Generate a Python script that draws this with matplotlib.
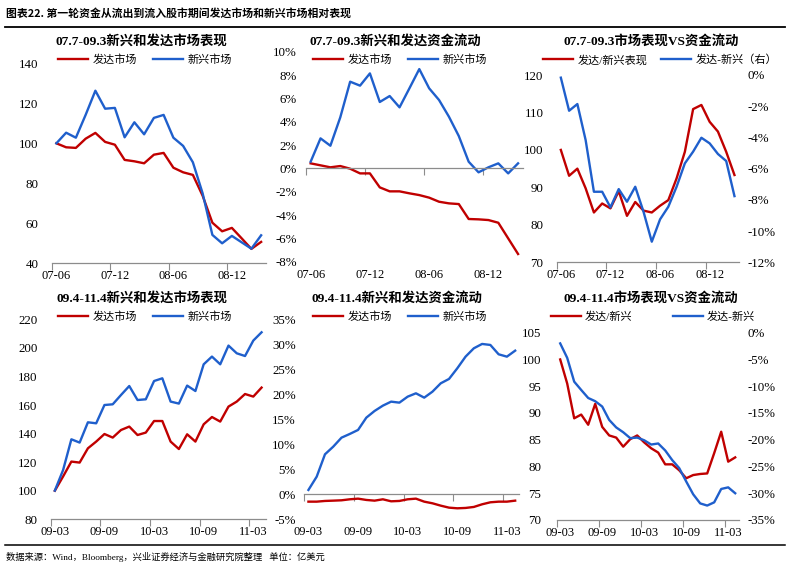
import matplotlib
matplotlib.use("Agg")
import matplotlib.pyplot as plt
from matplotlib.ticker import FixedLocator, FuncFormatter
from matplotlib.lines import Line2D

plt.rcParams['font.family'] = ['Liberation Serif', 'Noto Sans CJK SC']
plt.rcParams['axes.unicode_minus'] = False

RED = '#C00000'
BLUE = '#1F5FCC'

# ---------------- data ----------------
labels_top = ['07-06', '07-12', '08-06', '08-12']
labels_bot = ['09-03', '09-09', '10-03', '10-09', '11-03']

# 07.7-09.3 market performance (index)
dev1 = [100, 98.0, 97.7, 102.3, 105.2, 100.7, 99.3, 91.7, 91.0, 90.0, 94.3, 95.2,
        87.8, 85.5, 84.2, 73.8, 60.3, 56.0, 57.7, 52.5, 47.2, 50.7]
em1 = [100, 105.3, 102.8, 114.2, 126.3, 117.3, 117.7, 103.0, 110.5, 104.5, 112.7, 114.2,
       102.8, 98.7, 90.5, 75.0, 54.2, 50.0, 53.7, 50.5, 47.3, 54.0]
# 07.7-09.3 fund flows (%)
dev2 = [0.43, 0.26, 0.09, 0.20, -0.03, -0.43, -0.43, -1.63, -1.97, -1.97, -2.14, -2.29,
        -2.51, -2.86, -3.00, -3.06, -4.34, -4.37, -4.43, -4.66, -6.00, -7.34]
em2 = [0.57, 2.57, 1.94, 4.37, 7.43, 7.09, 8.14, 5.69, 6.20, 5.23, 6.86, 8.51,
       6.86, 5.86, 4.43, 2.77, 0.57, -0.34, 0.09, 0.43, -0.43, 0.43]
# 07.7-09.3 relative
ratio3 = [100, 93.1, 95.0, 89.75, 83.3, 85.7, 84.4, 89.0, 82.4, 86.1, 83.8, 83.3,
          85.1, 86.6, 92.4, 99.5, 110.9, 112.0, 107.5, 104.9, 99.5, 93.3]
diff3 = [-0.17, -2.29, -1.86, -4.17, -7.48, -7.48, -8.48, -7.31, -8.12, -7.16, -8.76, -10.68,
         -9.25, -8.44, -7.16, -5.66, -4.91, -4.02, -4.38, -5.06, -5.51, -7.76]

# 09.4-11.4 market performance (index)
dev4 = [100, 110.0, 120.4, 119.7, 129.7, 134.4, 139.7, 137.2, 142.5, 144.9, 139.0, 140.7,
        148.8, 148.8, 134.4, 129.2, 139.5, 134.4, 146.5, 151.6, 148.4, 158.9, 162.4, 167.7,
        165.9, 172.2]
em4 = [100.1, 114.5, 136.0, 133.7, 147.9, 147.2, 160.0, 160.5, 167.0, 173.3, 163.5, 164.0,
       176.8, 178.7, 162.4, 161.0, 173.6, 169.8, 188.5, 193.9, 188.5, 201.6, 196.2, 194.3,
       205.1, 210.9]
# 09.4-11.4 fund flows (%)
dev5 = [-1.47, -1.47, -1.33, -1.27, -1.2, -1.0, -0.87, -1.13, -1.27, -1.0, -1.4, -1.33,
        -1.0, -0.87, -1.47, -1.8, -2.27, -2.67, -2.8, -2.73, -2.53, -2.0, -1.6, -1.47,
        -1.47, -1.27]
em5 = [0.87, 3.53, 8.0, 9.53, 11.33, 12.07, 12.87, 15.33, 16.67, 17.73, 18.53, 18.33,
       19.53, 20.2, 19.33, 20.53, 22.2, 23.07, 25.2, 27.53, 29.2, 30.07, 29.87, 28.0,
       27.53, 28.73]
# 09.4-11.4 relative
ratio6 = [100, 95.5, 89.0, 89.7, 87.8, 91.7, 87.4, 85.8, 85.4, 83.7, 85.1, 85.8,
          84.5, 83.4, 82.6, 80.4, 80.4, 79.3, 77.8, 78.4, 78.6, 78.7, 82.5, 86.5,
          80.9, 81.7]
diff6 = [-2.0, -4.7, -9.15, -10.7, -12.2, -12.8, -13.8, -16.3, -17.7, -18.6, -19.7, -19.6,
         -20.1, -20.9, -20.7, -22.0, -23.8, -25.3, -27.8, -30.2, -31.9, -32.3, -31.7, -29.2,
         -28.9, -30.0]

titles = ['07.7-09.3新兴和发达市场表现', '07.7-09.3新兴和发达资金流动', '07.7-09.3市场表现VS资金流动',
          '09.4-11.4新兴和发达市场表现', '09.4-11.4新兴和发达资金流动', '09.4-11.4市场表现VS资金流动']

W, H = 792, 575
fig = plt.figure(figsize=(W / 100, H / 100), dpi=100)


def box(l, r, t, b):
    return [l / W, 1 - b / H, (r - l) / W, (b - t) / H]


AXC = '#8C8C8C'
pct = FuncFormatter(lambda v, p: '%d%%' % round(v))


def setup(ax, n, labels, y0, ylim, ystep, ypad, fmt=None):
    ax.set_xlim(-0.5, n - 0.5)
    ax.set_ylim(*ylim)
    pos = list(range(0, n, 6))
    ax.xaxis.set_major_locator(FixedLocator(pos))
    ax.set_xticklabels(labels)
    bnd = [p - 0.5 for p in pos]
    ax.xaxis.set_minor_locator(FixedLocator(bnd))
    ax.tick_params(axis='x', which='major', length=0, pad=5, labelsize=9,
                   bottom=True, top=False)
    ax.tick_params(axis='x', which='minor', length=5, direction='in', top=True,
                   bottom=False, width=0.8, color=AXC)
    for s in ['left', 'right', 'bottom']:
        ax.spines[s].set_visible(False)
    ax.spines['top'].set_position(('data', y0))
    ax.spines['top'].set_color(AXC)
    ax.spines['top'].set_linewidth(0.9)
    yt = []
    v = ylim[0]
    while v <= ylim[1] + 1e-9:
        yt.append(v)
        v += ystep
    ax.set_yticks(yt)
    if fmt is not None:
        ax.yaxis.set_major_formatter(fmt)
    ax.tick_params(axis='y', length=0, pad=ypad, labelsize=9.3)
    ax.patch.set_visible(False)


def legend(ax, handles, labs, cx, cy, colsp=1.4):
    ax.legend(handles, labs, ncol=2, loc='center', bbox_to_anchor=(cx / W, 1 - cy / H),
              bbox_transform=fig.transFigure, frameon=False, fontsize=8,
              handlelength=2.7, handletextpad=0.4, columnspacing=colsp,
              borderaxespad=0, borderpad=0)


LW = 1.7

# Panel 1
ax1 = fig.add_axes(box(51.5, 266, 63.3, 263.3))
x = range(len(dev1))
a, = ax1.plot(x, dev1, color=RED, lw=LW)
b, = ax1.plot(x, em1, color=BLUE, lw=LW)
setup(ax1, len(dev1), labels_top, 40, (40, 140), 20, 9.5)
legend(ax1, [a, b], ['发达市场', '新兴市场'], 145, 60)

# Panel 2
ax2 = fig.add_axes(box(305.7, 523, 51.7, 261.7))
a, = ax2.plot(x, dev2, color=RED, lw=LW)
b, = ax2.plot(x, em2, color=BLUE, lw=LW)
setup(ax2, len(dev2), labels_top, 0, (-8, 10), 2, 6.5, pct)
legend(ax2, [a, b], ['发达市场', '新兴市场'], 400, 60)

# Panel 3
ax3 = fig.add_axes(box(556.7, 738.6, 75, 262.3))
a, = ax3.plot(x, ratio3, color=RED, lw=LW)
setup(ax3, len(ratio3), labels_top, 70, (70, 120), 10, 9.5)
ax3b = ax3.twinx()
b, = ax3b.plot(x, diff3, color=BLUE, lw=LW)
ax3b.set_ylim(-12, 0)
ax3b.set_yticks(range(-12, 1, 2))
ax3b.yaxis.set_major_formatter(pct)
ax3b.tick_params(axis='y', length=0, pad=6.5, labelsize=9.3)
for s in ax3b.spines.values():
    s.set_visible(False)
ax3b.xaxis.set_visible(False)
legend(ax3b, [a, b], ['发达/新兴表现', '发达-新兴（右）'], 660, 60, 1.2)

# Panel 4
ax4 = fig.add_axes(box(50.7, 265.7, 319.3, 519.3))
x2 = range(len(dev4))
a, = ax4.plot(x2, dev4, color=RED, lw=LW)
b, = ax4.plot(x2, em4, color=BLUE, lw=LW)
setup(ax4, len(dev4), labels_bot, 80, (80, 220), 20, 9.5)
legend(ax4, [a, b], ['发达市场', '新兴市场'], 145, 316.7)

# Panel 5
ax5 = fig.add_axes(box(304.3, 519.3, 319.3, 519.3))
a, = ax5.plot(x2, dev5, color=RED, lw=LW)
b, = ax5.plot(x2, em5, color=BLUE, lw=LW)
setup(ax5, len(dev5), labels_bot, 0, (-5, 35), 5, 6, pct)
legend(ax5, [a, b], ['发达市场', '新兴市场'], 400, 316.7)

# Panel 6
ax6 = fig.add_axes(box(556.7, 738.7, 332.7, 520))
a, = ax6.plot(x2, ratio6, color=RED, lw=LW)
setup(ax6, len(ratio6), labels_bot, 70, (70, 105), 5, 11)
ax6b = ax6.twinx()
b, = ax6b.plot(x2, diff6, color=BLUE, lw=LW)
ax6b.set_ylim(-35, 0)
ax6b.set_yticks(range(-35, 1, 5))
ax6b.yaxis.set_major_formatter(pct)
ax6b.tick_params(axis='y', length=0, pad=6.5, labelsize=9.3)
for s in ax6b.spines.values():
    s.set_visible(False)
ax6b.xaxis.set_visible(False)
legend(ax6b, [a, b], ['发达/新兴', '发达-新兴'], 653, 316.7, 3.6)

# panel titles
tpos = [(141.7, 41.7), (395, 41.7), (651, 41.7), (141.7, 298.3), (397, 298.3), (651, 298.3)]
for t, (cx, cy) in zip(titles, tpos):
    fig.text(cx / W, 1 - cy / H, t, ha='center', va='center', fontsize=9.6, fontweight='bold')

# figure title and rules
fig.text(6 / W, 1 - 13.5 / H, '图表22. 第一轮资金从流出到流入股市期间发达市场和新兴市场相对表现',
         ha='left', va='center', fontsize=7.8, fontweight='bold', family=['Noto Sans CJK SC'])
fig.add_artist(Line2D([5 / W, 785 / W], [1 - 27 / H] * 2, color='black', lw=1.3))
fig.add_artist(Line2D([5 / W, 785 / W], [1 - 545 / H] * 2, color='black', lw=1.1))
fig.text(6 / W, 1 - 556.5 / H, '数据来源：Wind，Bloomberg，兴业证券经济与金融研究院整理   单位：亿美元',
         ha='left', va='center', fontsize=6.7)

fig.savefig('out.png', dpi=100)
